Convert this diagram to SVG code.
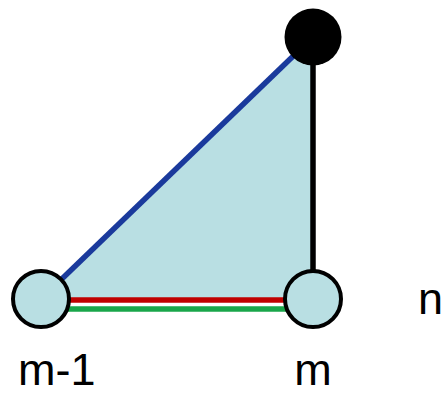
<svg xmlns="http://www.w3.org/2000/svg" width="443" height="394" viewBox="0 0 443 394">
<style>
.lbl{font-family:"Liberation Sans",Arial,sans-serif;font-size:45px;fill:#000}
.node{fill:#b9dfe3;stroke:#000;stroke-width:4}
</style>
<rect width="443" height="394" fill="#fff"/>
<polygon points="41,299 313,37 313,299" fill="#b9dfe3"/>
<g id="connectors" fill="none" stroke-width="5.5">
<line x1="41" y1="299" x2="313" y2="37" stroke="#1a3a9c"/>
<line x1="313" y1="37" x2="313" y2="299" stroke="#000"/>
<line x1="41" y1="300" x2="313" y2="300" stroke="#c00000"/>
<line x1="41" y1="309" x2="313" y2="309" stroke="#19a64a"/>
</g>
<g id="node-m1"><circle class="node" cx="41" cy="299" r="28"/></g>
<g id="node-m"><circle class="node" cx="313" cy="299" r="28"/></g>
<g id="node-top"><circle cx="313" cy="37" r="28.5" fill="#000"/></g>
<g id="labels">
<text class="lbl" x="18" y="385">m-1</text>
<text class="lbl" x="313" y="385" text-anchor="middle">m</text>
<text class="lbl" x="418" y="314">n</text>
</g>
</svg>
